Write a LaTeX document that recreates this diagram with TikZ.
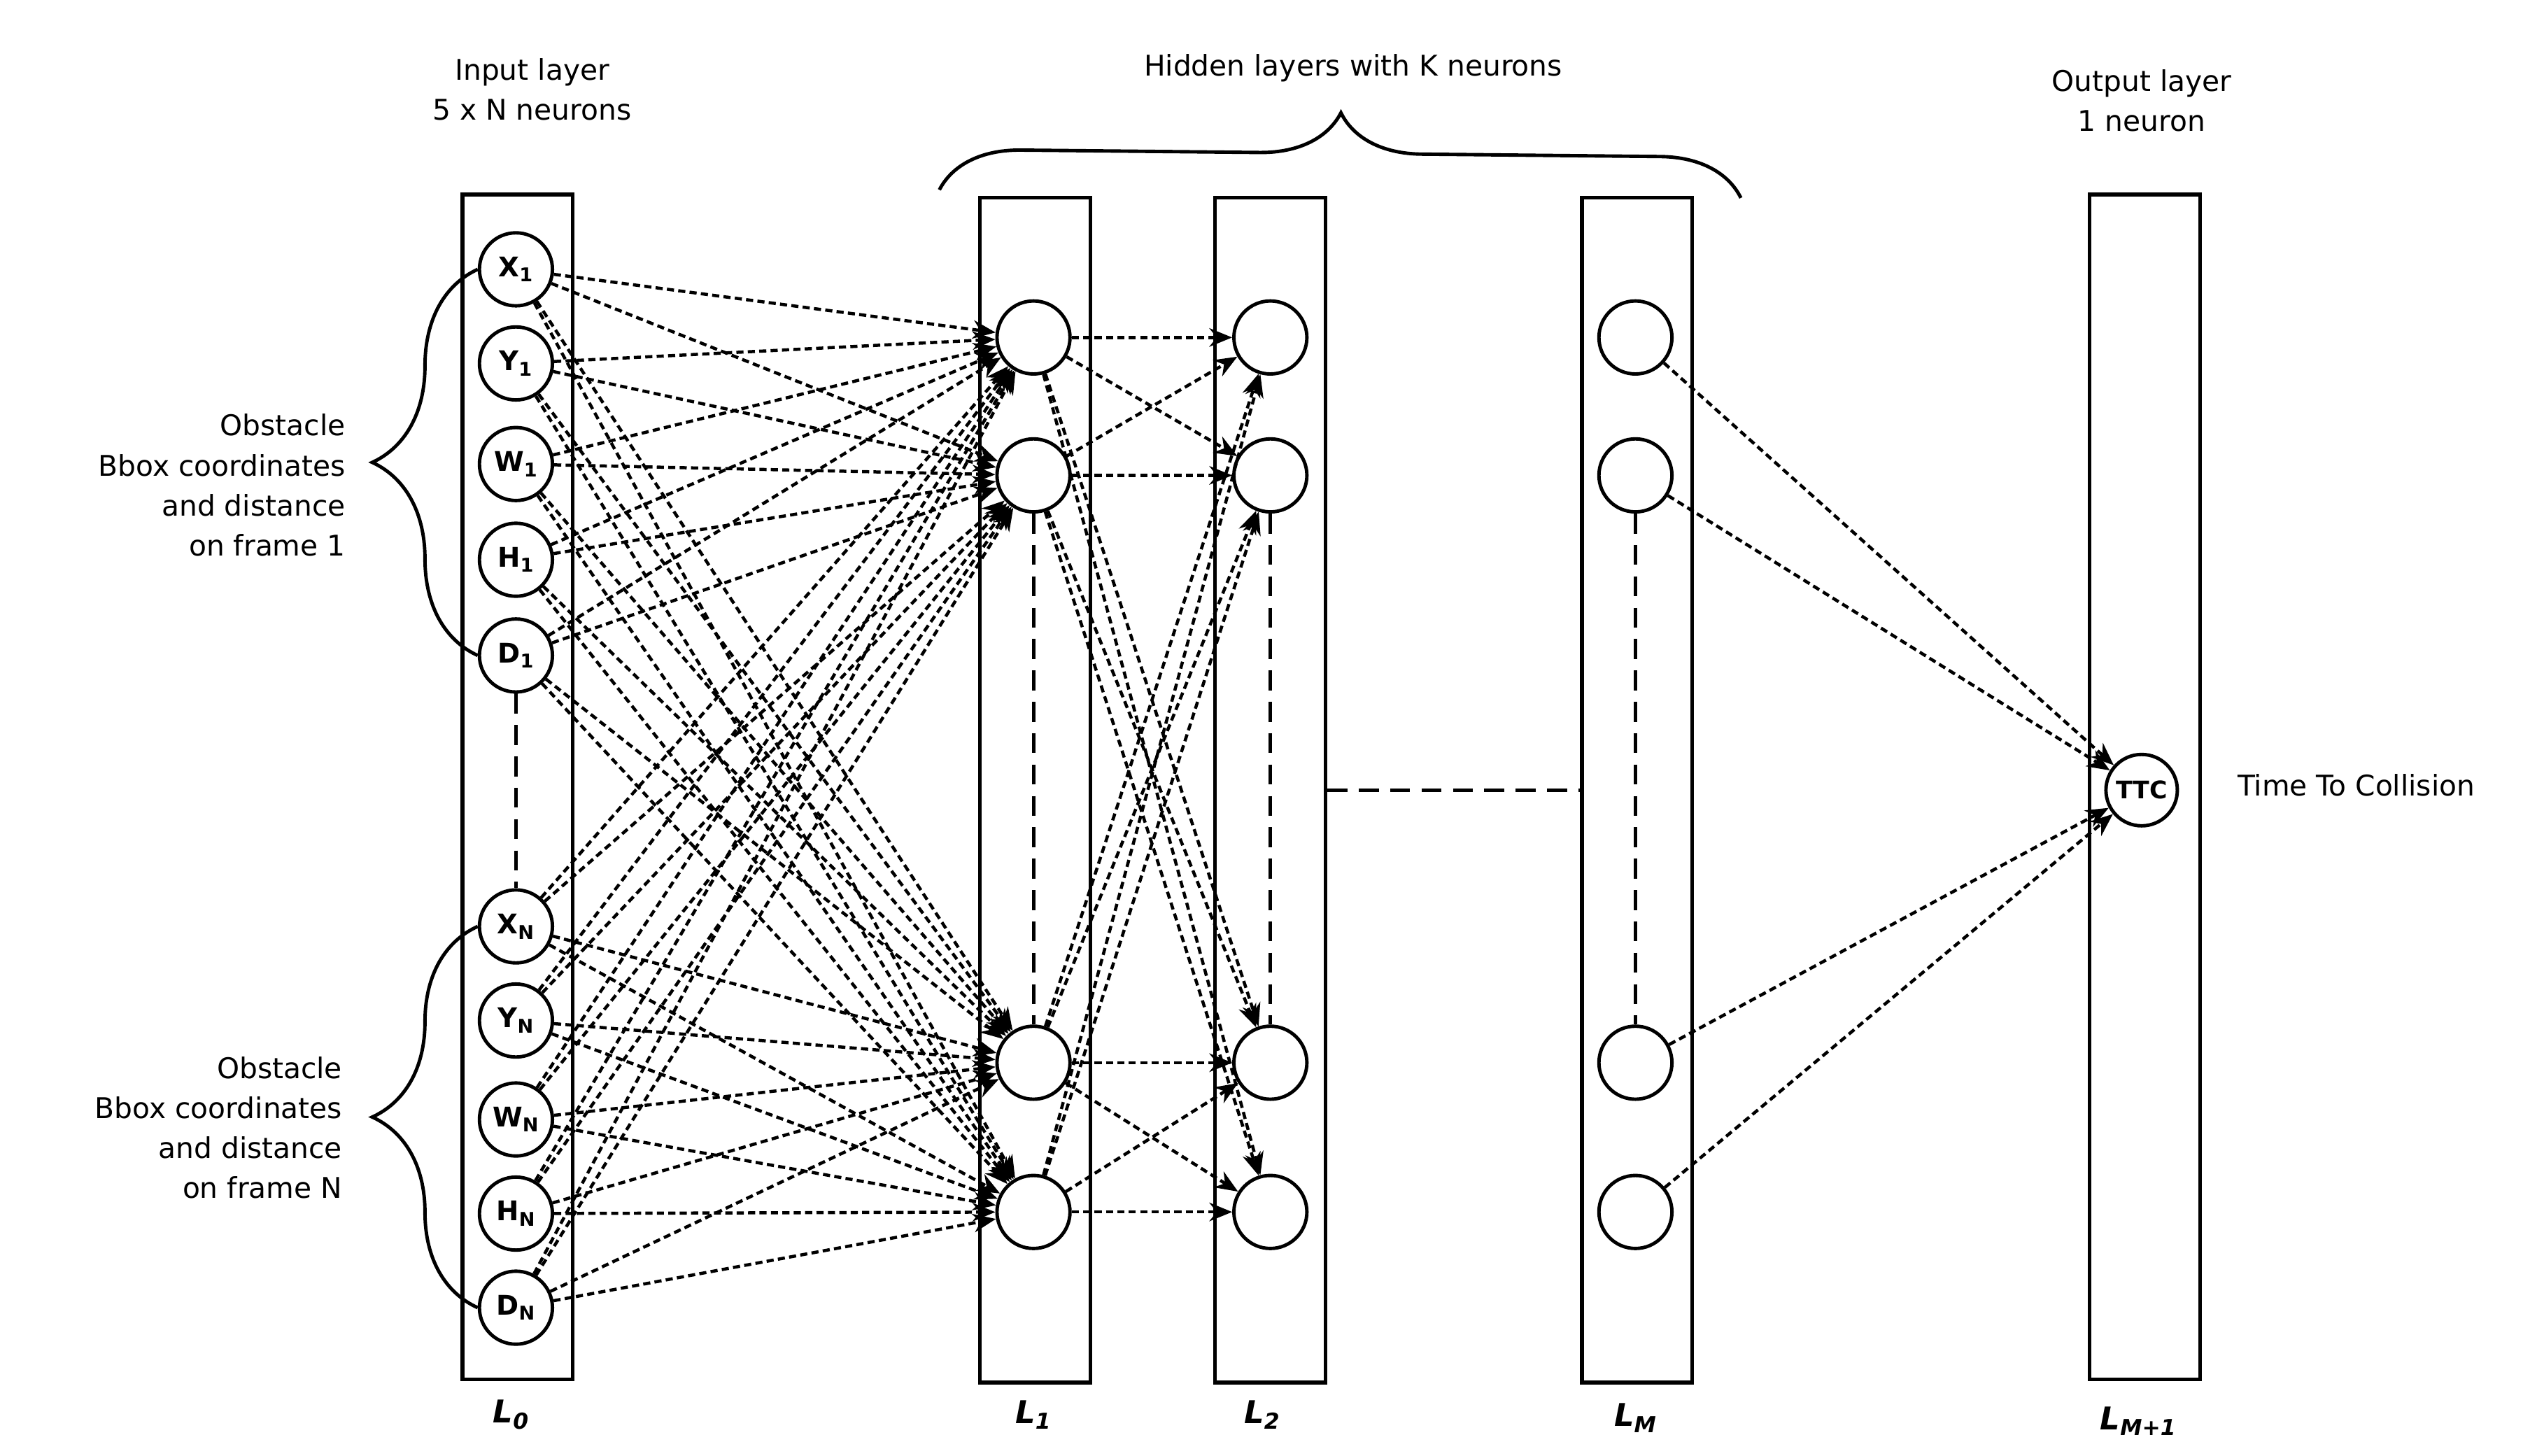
\documentclass[tikz,border=0pt]{standalone}
\usepackage{fontspec}
\setmainfont{DejaVu Sans}
\usetikzlibrary{arrows.meta,decorations.pathreplacing}
\begin{document}
\begin{tikzpicture}[x=0.04cm,y=-0.04cm,
  layer/.style={draw,line width=2.6pt},
  neu/.style={draw,circle,line width=2.4pt,minimum size=1.8cm,inner sep=0pt,font=\bfseries\fontsize{19}{20}\selectfont,fill=white},
  con/.style={line width=2.2pt,dash pattern=on 5pt off 3pt,-{Stealth[length=16pt,width=13pt]}},
  vd/.style={line width=2.4pt,dash pattern=on 14pt off 8pt},
  lbl/.style={font=\fontsize{20}{28}\selectfont,align=center},
  ll/.style={font=\bfseries\itshape\fontsize{22}{24}\selectfont}]
\useasboundingbox (0,0) rectangle (1568,897);
\node[layer,minimum width=2.72cm,minimum height=29.2cm,inner sep=0pt] (R0) at (319,485) {};
\node[layer,minimum width=2.72cm,minimum height=29.2cm,inner sep=0pt] (R1) at (638,487) {};
\node[layer,minimum width=2.72cm,minimum height=29.2cm,inner sep=0pt] (R2) at (783,487) {};
\node[layer,minimum width=2.72cm,minimum height=29.2cm,inner sep=0pt] (RM) at (1009,487) {};
\node[layer,minimum width=2.72cm,minimum height=29.2cm,inner sep=0pt] (RO) at (1322,485) {};
\foreach \n/\l/\y in {a/X/166,b/Y/224,c/W/286,d/H/345,e/D/404}
  \node[neu] (i\n) at (318,\y) {\l\textsubscript{1}};
\foreach \n/\l/\y in {f/X/571,g/Y/629,h/W/690,i/H/748,j/D/806}
  \node[neu] (i\n) at (318,\y) {\l\textsubscript{N}};
\foreach \k/\y in {1/208,2/293,3/655,4/747} {
  \node[neu] (a\k) at (637,\y) {};
  \node[neu] (b\k) at (783,\y) {};
  \node[neu] (m\k) at (1008,\y) {};
}
\node[neu,minimum size=1.76cm,font=\bfseries\fontsize{17}{18}\selectfont] (ttc) at (1320,487) {TTC};
\draw[vd] (ie) -- (if);
\draw[vd] (a2) -- (a3);
\draw[vd] (b2) -- (b3);
\draw[vd] (m2) -- (m3);
\draw[vd] (R2.east |- 0,487) coordinate (c1) -- (RM.west |- 0,487) coordinate (c2);
\foreach \s in {a,b,c,d,e,f,g,h,i,j}
  \foreach \t in {1,2,3,4}
    \draw[con] (i\s) -- (a\t);
\foreach \s in {1,2,3,4}
  \foreach \t in {1,2,3,4}
    \draw[con] (a\s) -- (b\t);
\foreach \s in {1,2,3,4}
  \draw[con] (m\s) -- (ttc);
\node[ll] (l0) at (315,872) {L\textsubscript{0}};
\node[ll] (l1) at (637,872) {L\textsubscript{1}};
\node[ll] (l2) at (778,872) {L\textsubscript{2}};
\node[ll] (lm) at (1008,874) {L\textsubscript{M}};
\node[ll] (lo) at (1318,876) {L\textsubscript{M+1}};
\node[lbl] (t0) at (328,55) {Input layer\\5 x N neurons};
\node[lbl] (th) at (834,42) {Hidden layers with K neurons};
\node[lbl] (to) at (1320,62) {Output layer\\1 neuron};
\node[lbl,anchor=west] (tt) at (1376,484) {Time To Collision};
\node[lbl,align=right,anchor=east] (tb1) at (216,299) {Obstacle\\Bbox coordinates\\and distance\\on frame 1};
\node[lbl,align=right,anchor=east] (tb2) at (214,695) {Obstacle\\Bbox coordinates\\and distance\\on frame N};
\draw[line width=2.4pt,decorate,decoration={brace,amplitude=2cm}] (579,117) -- (1073,122);
\draw[line width=2.4pt,decorate,decoration={brace,amplitude=2.6cm}] (ie.west) -- (ia.west);
\draw[line width=2.4pt,decorate,decoration={brace,amplitude=2.6cm}] (ij.west) -- (if.west);
\end{tikzpicture}
\end{document}
